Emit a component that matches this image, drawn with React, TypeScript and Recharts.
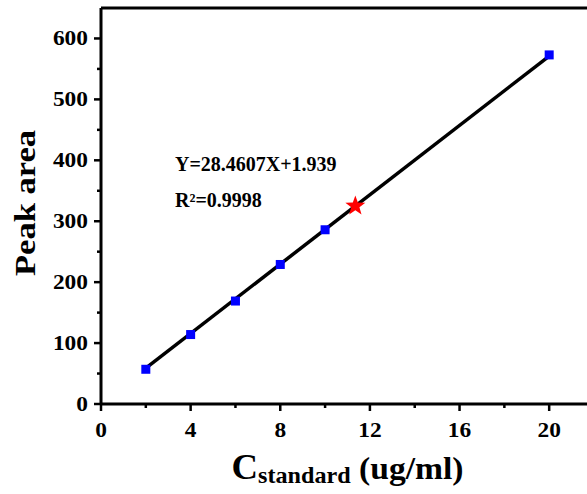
import React from "react";
import {
  ScatterChart,
  Scatter,
  XAxis,
  YAxis,
  ReferenceLine,
  ReferenceDot,
} from "recharts";

// standard solutions
const concentrations = [2, 4, 6, 8, 10, 20];
const peakAreas = [57, 114, 169, 229, 286, 573];

// measured sample (red star)
const sampleConc = [11.35];
const sampleArea = [325];

// linear fit
const slope = 28.4607;
const intercept = 1.939;
const fitRange = [2, 20];
const equationText = "Y=28.4607X+1.939";
const r2Text = "R²=0.9998";

const xTicks = [0, 2, 4, 6, 8, 10, 12, 14, 16, 18, 20];
const yTicks = [0, 50, 100, 150, 200, 250, 300, 350, 400, 450, 500, 550, 600];

const FONT = "'Liberation Serif', 'Times New Roman', serif";

const standardData = concentrations.map((x, i) => ({ x, y: peakAreas[i] }));
const sampleData = sampleConc.map((x, i) => ({ x, y: sampleArea[i] }));
const fitSegment = fitRange.map((x) => ({ x, y: slope * x + intercept }));

function XTick({ x, y, payload }: any) {
  const v = payload.value;
  const major = v % 4 === 0;
  return (
    <g>
      <line x1={x} x2={x} y1={y} y2={y + (major ? 7 : 4)} stroke="#000" strokeWidth={2.5} />
      {major && (
        <text
          transform={`translate(${x},${y + 33}) scale(1.17,1)`}
          textAnchor="middle"
          fontSize={20}
          fontWeight="bold"
          fontFamily={FONT}
          fill="#000"
        >
          {v}
        </text>
      )}
    </g>
  );
}

function YTick({ x, y, payload }: any) {
  const v = payload.value;
  const major = v % 100 === 0;
  return (
    <g>
      <line x1={x - (major ? 7 : 4)} x2={x} y1={y} y2={y} stroke="#000" strokeWidth={2.5} />
      {major && (
        <text
          transform={`translate(${x - 13},${y + 7}) scale(1.17,1)`}
          textAnchor="end"
          fontSize={20}
          fontWeight="bold"
          fontFamily={FONT}
          fill="#000"
        >
          {v}
        </text>
      )}
    </g>
  );
}

function XLabel(props: any) {
  const vb = props.viewBox ?? props;
  const cx = vb.x + vb.width / 2;
  return (
    <text
      transform={`translate(${cx},${vb.y + 75}) scale(1.05,1)`}
      textAnchor="middle"
      fontWeight="bold"
      fontFamily={FONT}
      fill="#000"
    >
      <tspan fontSize={35}>C</tspan>
      <tspan fontSize={23} dy={4}>standard</tspan>
      <tspan fontSize={32} dy={-4}> (ug/ml)</tspan>
    </text>
  );
}

function YLabel(props: any) {
  const vb = props.viewBox ?? props;
  const cy = vb.y + vb.height / 2 - 3;
  return (
    <text
      transform={`translate(35,${cy}) rotate(-90) scale(1.19,1)`}
      textAnchor="middle"
      fontSize={29}
      fontWeight="bold"
      fontFamily={FONT}
      fill="#000"
    >
      Peak area
    </text>
  );
}

function Annotation(props: any) {
  const vb = props.viewBox ?? props;
  return (
    <g fontWeight="bold" fontFamily={FONT} fill="#000" fontSize={20}>
      <text x={vb.x} y={vb.y}>{equationText}</text>
      <text x={vb.x} y={vb.y + 36}>{r2Text}</text>
    </g>
  );
}

function Square({ cx, cy }: any) {
  return <rect x={cx - 4.5} y={cy - 4.5} width={9} height={9} fill="#0000ff" />;
}

function Star({ cx, cy }: any) {
  const pts: string[] = [];
  for (let i = 0; i < 10; i++) {
    const r = i % 2 === 0 ? 10.5 : 4.3;
    const a = -Math.PI / 2 + (i * Math.PI) / 5;
    pts.push(`${cx + r * Math.cos(a)},${cy + r * Math.sin(a)}`);
  }
  return <polygon points={pts.join(" ")} fill="#ff0000" />;
}

export default function App() {
  return (
    <div
      style={{
        position: "absolute",
        left: 0,
        top: 0,
        width: 587,
        height: 494,
        overflow: "hidden",
        background: "#fff",
      }}
    >
      <ScatterChart width={600} height={494} margin={{ top: 8, right: 6, bottom: 0, left: 0 }}>
        <XAxis
          type="number"
          dataKey="x"
          domain={[0, 22]}
          ticks={xTicks}
          interval={0}
          height={90}
          tickSize={0}
          tickMargin={0}
          tickLine={false}
          tick={<XTick />}
          axisLine={{ stroke: "#000", strokeWidth: 3 }}
          label={XLabel}
        />
        <YAxis
          type="number"
          dataKey="y"
          domain={[0, 650]}
          ticks={yTicks}
          interval={0}
          width={101}
          tickSize={0}
          tickMargin={0}
          tickLine={false}
          tick={<YTick />}
          axisLine={{ stroke: "#000", strokeWidth: 3 }}
          label={YLabel}
        />
        <ReferenceLine y={650} stroke="#000" strokeWidth={3} />
        <ReferenceLine segment={fitSegment} stroke="#000" strokeWidth={3.5} />
        <ReferenceDot
          x={3.3}
          y={383}
          r={0}
          fill="none"
          stroke="none"
          label={Annotation}
        />
        <Scatter data={standardData} shape={Square} isAnimationActive={false} />
        <Scatter data={sampleData} shape={Star} isAnimationActive={false} />
      </ScatterChart>
    </div>
  );
}
